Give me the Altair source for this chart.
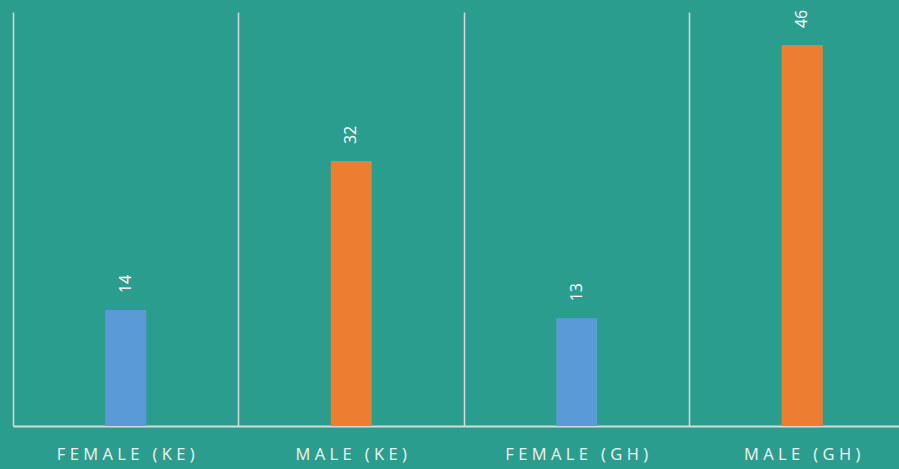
import altair as alt
import pandas as pd

# Counts by group
groups = ["Female (KE)", "Male (KE)", "Female (GH)", "Male (GH)"]
counts = [14, 32, 13, 46]
sex = ["Female", "Male", "Female", "Male"]

df = pd.DataFrame({"group": groups, "count": counts, "sex": sex})

bg = "#2A9D8F"
grid = "#D9D9D9"

# the last category runs past the right edge of the canvas
x = alt.X(
    "group:N",
    sort=groups,
    scale=alt.Scale(paddingInner=0, paddingOuter=0, range=[0, 902]),
    axis=alt.Axis(
        title=None,
        labelAngle=0,
        labelExpr="join(split(upper(datum.label), ''), '\u2009\u200a')",
        labelColor="#F2F2F2",
        labelFont="Open Sans",
        labelFontSize=16.5,
        labelPadding=20,
        ticks=False,
        grid=True,
        bandPosition=0,
        gridColor=grid,
        gridWidth=1.5,
        domainColor=grid,
        domainWidth=2,
    ),
)
y = alt.Y(
    "count:Q",
    scale=alt.Scale(domain=[0, 50], nice=False),
    axis=None,
)

bars = alt.Chart(df).mark_bar(size=41).encode(
    x=x,
    y=y,
    color=alt.Color(
        "sex:N",
        scale=alt.Scale(domain=["Female", "Male"], range=["#5B9BD5", "#ED7D31"]),
        legend=None,
    ),
)

labels = alt.Chart(df).mark_text(
    angle=270,
    align="left",
    baseline="middle",
    dx=17,
    color="#FFFFFF",
    font="Open Sans",
    fontSize=16,
).encode(x=x, y=y, text="count:Q")

chart = (
    alt.layer(bars, labels)
    .properties(
        width=886,
        height=414,
        background=bg,
        padding={"left": 13, "top": 12, "right": 0, "bottom": 43},
        autosize=alt.AutoSizeParams(type="none"),
    )
    .configure_view(stroke=None)
)

chart.save("out.html", embed_options={"renderer": "svg", "actions": False})
